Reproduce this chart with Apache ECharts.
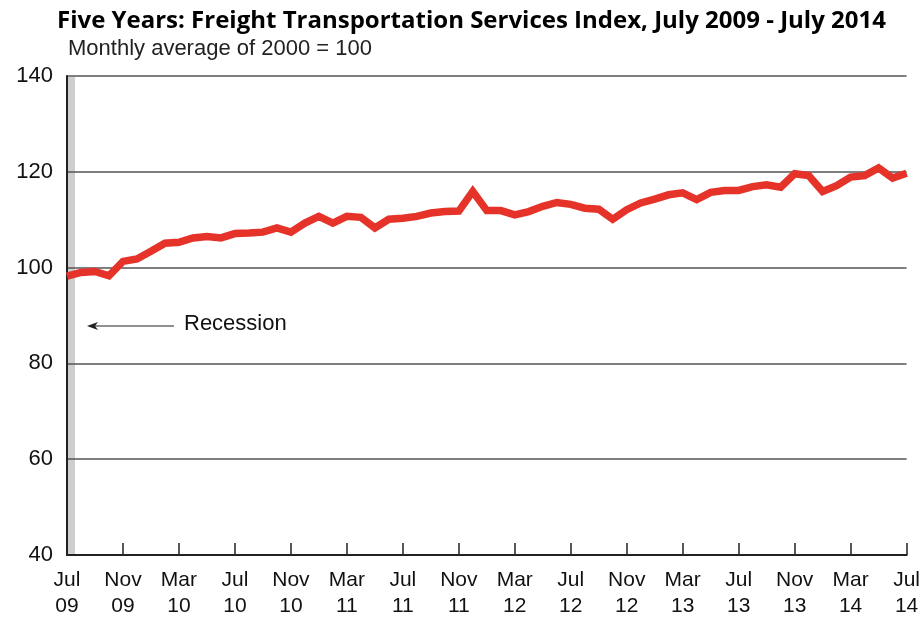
<!DOCTYPE html>
<html lang="en">
<head>
    <meta charset="UTF-8">
    <title>Freight Transportation Services Index</title>
    <script type="text/javascript" src="https://cdn.jsdelivr.net/npm/echarts@6/dist/echarts.min.js"></script>
    <style>
        body { margin: 0; background: #fff; }
    </style>
</head>
<body>
    <div id="main" style="width: 923px;height:619px;"></div>
    <script type="text/javascript">
        // months Jul 2009 .. Jul 2014
        var monthNames = ['Jan', 'Feb', 'Mar', 'Apr', 'May', 'Jun', 'Jul', 'Aug', 'Sep', 'Oct', 'Nov', 'Dec'];
        var categories = [];
        for (var i = 0; i <= 60; i++) {
            var m = (6 + i) % 12;
            var y = 9 + Math.floor((6 + i) / 12);
            categories.push(monthNames[m] + '\n' + (y < 10 ? '0' + y : '' + y));
        }

        var tsiValues = [
            98.2, 99.0, 99.2, 98.3, 101.3, 101.8, 103.4, 105.1, 105.3, 106.2, 106.5, 106.2,
            107.1, 107.2, 107.4, 108.3, 107.4, 109.3, 110.7, 109.3, 110.7, 110.5, 108.3, 110.1,
            110.3, 110.7, 111.4, 111.7, 111.8, 115.9, 111.9, 111.9, 111.0, 111.7, 112.8, 113.6,
            113.2, 112.4, 112.2, 110.1, 112.1, 113.5, 114.3, 115.2, 115.6, 114.2, 115.7, 116.1,
            116.1, 116.9, 117.3, 116.8, 119.6, 119.2, 115.9, 117.1, 118.9, 119.2, 120.8, 118.7,
            119.7
        ];

        var yTicks = [40, 60, 80, 100, 120, 140];

        var myChart = echarts.init(document.getElementById('main'));

        var option = {
            backgroundColor: '#ffffff',
            animation: false,
            title: [{
                text: 'Five Years: Freight Transportation Services Index, July 2009 - July 2014',
                left: 52,
                top: 4,
                textStyle: {
                    fontFamily: 'Open Sans',
                    fontWeight: 'bold',
                    fontSize: 24,
                    color: '#000'
                }
            }, {
                text: 'Monthly average of 2000 = 100',
                left: 63,
                top: 33,
                textStyle: {
                    fontFamily: 'Liberation Sans',
                    fontWeight: 'normal',
                    fontSize: 22,
                    color: '#222'
                }
            }],
            grid: {
                left: 67,
                right: 16,
                top: 76,
                bottom: 64
            },
            xAxis: {
                type: 'category',
                boundaryGap: false,
                data: categories,
                axisLine: { lineStyle: { color: '#222', width: 2 } },
                axisTick: {
                    interval: 3,
                    inside: true,
                    length: 12,
                    lineStyle: { color: '#222', width: 1.5 }
                },
                axisLabel: {
                    interval: 3,
                    margin: 12,
                    fontFamily: 'Liberation Sans',
                    fontSize: 21,
                    lineHeight: 26,
                    color: '#111'
                }
            },
            yAxis: {
                type: 'value',
                min: yTicks[0],
                max: yTicks[yTicks.length - 1],
                interval: 20,
                axisLine: { show: true, lineStyle: { color: '#222', width: 2 } },
                axisTick: { show: false },
                axisLabel: {
                    margin: 14,
                    fontFamily: 'Liberation Sans',
                    fontSize: 22,
                    color: '#111'
                },
                splitLine: { lineStyle: { color: '#555', width: 1.5 } }
            },
            graphic: [
                // recession shading at the left edge
                { type: 'rect', left: 68, top: 77, shape: { width: 7, height: 477 }, style: { fill: '#cfcfcf' }, z: 0 },
                // recession arrow + label
                { type: 'line', shape: { x1: 92, y1: 326, x2: 174, y2: 326 }, style: { stroke: '#222', lineWidth: 1.2 } },
                { type: 'polygon', shape: { points: [[87, 326], [98, 322], [95, 326], [98, 330]] }, style: { fill: '#222' } },
                { type: 'text', left: 184, top: 313, style: { text: 'Recession', font: '22px "Liberation Sans"', fill: '#111' } }
            ],
            series: [{
                name: 'TSI',
                type: 'line',
                data: tsiValues,
                showSymbol: false,
                lineStyle: { color: '#e5332a', width: 7.5, join: 'miter' },
                z: 5
            }]
        };

        myChart.setOption(option);
    </script>
</body>
</html>
